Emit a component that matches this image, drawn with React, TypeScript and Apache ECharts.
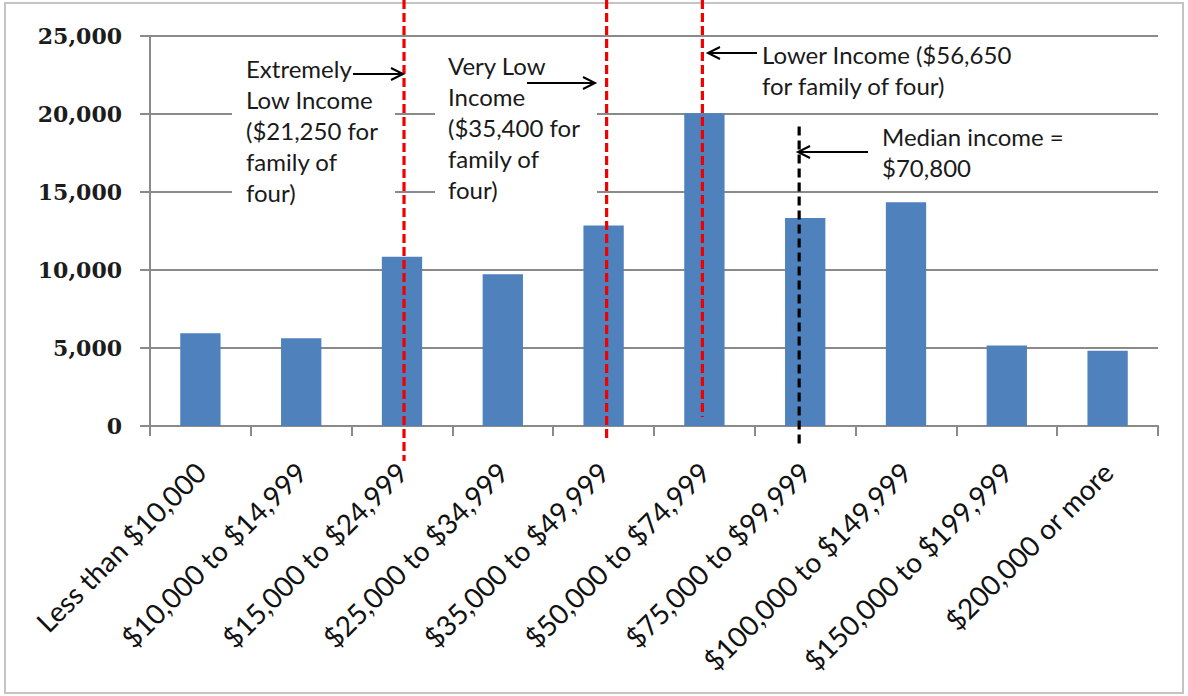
import React, { useEffect, useRef } from "react";
import * as echarts from "echarts";

const categories = [
  "Less than $10,000",
  "$10,000 to $14,999",
  "$15,000 to $24,999",
  "$25,000 to $34,999",
  "$35,000 to $49,999",
  "$50,000 to $74,999",
  "$75,000 to $99,999",
  "$100,000 to $149,999",
  "$150,000 to $199,999",
  "$200,000 or more",
];
const households = [5950, 5630, 10850, 9720, 12860, 20050, 13330, 14350, 5160, 4820];

const yMin = 0;
const yMax = 25000;
const yInterval = 5000;

// threshold markers, position along the category axis (index units)
const thresholdPositions = [2.02, 4.03, 4.98, 5.94];
const thresholdTops = [27300, 27300, 27300, 19200];
const thresholdBottoms = [-2250, -770, 580, -1400];
const thresholdColors = ["#f00000", "#f00000", "#f00000", "#000000"];

const annotationTexts = [
  "Extremely\nLow Income\n($21,250 for\nfamily of\nfour)",
  "Very Low\nIncome\n($35,400 for\nfamily of\nfour)",
  "Lower Income ($56,650\nfor family of four)",
  "Median income =\n$70,800",
];

const BAR = "#4f81bd";
const GRID = "#8a8a8a";
const TXT_FONT = "Lato, 'Open Sans', sans-serif";

function arrow(x1: number, y: number, x2: number, z: number) {
  const dir = x2 > x1 ? 1 : -1;
  return {
    type: "group",
    z,
    children: [
      {
        type: "line",
        z,
        shape: { x1, y1: y, x2, y2: y },
        style: { stroke: "#000", lineWidth: 2 },
      },
      {
        type: "polyline",
        z,
        shape: {
          points: [
            [x2 - dir * 12, y - 6],
            [x2, y],
            [x2 - dir * 12, y + 6],
          ],
        },
        style: { stroke: "#000", lineWidth: 2, fill: "none" },
      },
    ],
  };
}

export default function App() {
  const ref = useRef<HTMLDivElement>(null);

  useEffect(() => {
    const chart = echarts.init(ref.current as HTMLDivElement, null, { renderer: "svg" });

    const textStyle = (text: string) => ({
      text,
      fontFamily: TXT_FONT,
      fontSize: 24,
      lineHeight: 31,
      fill: "#1a1a1a",
      align: "left",
      verticalAlign: "top",
    });

    const option: any = {
      animation: false,
      backgroundColor: "#ffffff",
      grid: { left: 150, right: 30, top: 36, bottom: 270, containLabel: false },
      xAxis: [
        {
          type: "category",
          data: categories,
          boundaryGap: true,
          axisLine: { show: true, onZero: false, lineStyle: { color: GRID, width: 2 } },
          axisTick: { show: true, length: 10, alignWithLabel: false, lineStyle: { color: GRID, width: 2 } },
          axisLabel: {
            interval: 0,
            rotate: 45,
            margin: 41,
            color: "#111",
            fontFamily: TXT_FONT,
            fontSize: 28,
          },
          splitLine: { show: false },
        },
        {
          type: "value",
          min: -0.5,
          max: 9.5,
          show: false,
          gridIndex: 0,
          axisLine: { show: false },
          axisTick: { show: false },
          axisLabel: { show: false },
          splitLine: { show: false },
        },
      ],
      yAxis: {
        type: "value",
        min: yMin,
        max: yMax,
        interval: yInterval,
        axisLine: { show: true, onZero: false, lineStyle: { color: GRID, width: 2 } },
        axisTick: { show: true, length: 10, lineStyle: { color: GRID, width: 2 } },
        axisLabel: {
          margin: 28,
          color: "#1c1c1c",
          fontFamily: "'DejaVu Serif', serif",
          fontWeight: "bold",
          fontSize: 22,
          formatter: (v: number) => v.toLocaleString("en-US"),
        },
        splitLine: { show: true, lineStyle: { color: GRID, width: 2 } },
      },
      series: [
        {
          type: "bar",
          data: households,
          barWidth: "40%",
          itemStyle: { color: BAR },
          z: 2,
        },
        {
          type: "custom",
          xAxisIndex: 1,
          yAxisIndex: 0,
          z: 5,
          clip: false,
          silent: true,
          data: thresholdPositions.map((p, i) => [p, thresholdTops[i], thresholdBottoms[i], i]),
          renderItem: (_params: any, api: any) => {
            const i = api.value(3);
            const a = api.coord([api.value(0), api.value(1)]);
            const b = api.coord([api.value(0), api.value(2)]);
            return {
              type: "line",
              shape: { x1: a[0], y1: a[1], x2: b[0], y2: b[1] },
              style: {
                stroke: thresholdColors[i],
                lineWidth: 3.2,
                lineDash: i === 3 ? [9, 5] : [9, 4],
              },
            };
          },
        },
      ],
      graphic: [
        {
          type: "rect",
          z: 0,
          shape: { x: 5, y: 3, width: 1178, height: 690 },
          style: { fill: "none", stroke: "#c4c4c4", lineWidth: 2 },
        },
        { type: "rect", z: 1, shape: { x: 232, y: 45, width: 163, height: 165 }, style: { fill: "#ffffff" } },
        { type: "rect", z: 1, shape: { x: 435, y: 45, width: 162, height: 165 }, style: { fill: "#ffffff" } },
        { type: "text", z: 10, x: 246, y: 52.5, style: textStyle(annotationTexts[0]) },
        { type: "text", z: 10, x: 448, y: 50, style: textStyle(annotationTexts[1]) },
        { type: "text", z: 10, x: 762, y: 39, style: textStyle(annotationTexts[2]) },
        { type: "text", z: 10, x: 882, y: 121, style: textStyle(annotationTexts[3]) },
        arrow(353, 74, 403, 10),
        arrow(527, 83, 595, 10),
        arrow(757, 53, 708, 10),
        arrow(868, 152, 798, 10),
      ],
    };

    chart.setOption(option);
    return () => chart.dispose();
  }, []);

  return (
    <div
      ref={ref}
      style={{ position: "fixed", left: 0, top: 0, width: 1188, height: 696, background: "#fff" }}
    />
  );
}
